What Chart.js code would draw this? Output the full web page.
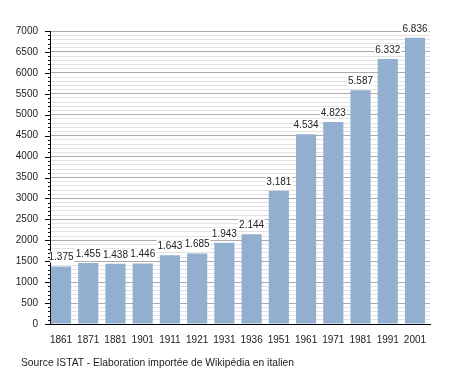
<!DOCTYPE html>
<html>
<head>
<meta charset="utf-8">
<script src="https://cdn.jsdelivr.net/npm/chart.js@4"></script>
<style>
  html, body { margin: 0; padding: 0; background: #fff; }
  #wrap { position: relative; width: 455px; height: 373px; }
  #source {
    position: absolute; left: 21px; top: 357px;
    font: 10.3px "Liberation Sans", Arial, sans-serif; color: #222;
    white-space: nowrap;
  }
</style>
</head>
<body>
<div id="wrap">
  <canvas id="popChart" width="455" height="373"></canvas>
  <div id="source">Source ISTAT - Elaboration importée de Wikipédia en italien</div>
</div>
<script>
// census years and resident population
const YEARS = ["1861", "1871", "1881", "1901", "1911", "1921", "1931", "1936", "1951", "1961", "1971", "1981", "1991", "2001"];
const POPULATION = [1375, 1455, 1438, 1446, 1643, 1685, 1943, 2144, 3181, 4534, 4823, 5587, 6332, 6836];

const FONT = '"Liberation Sans", Arial, sans-serif';
const BAR = "#93afcf";
const TEXT = "#222";

// italian style thousands: 1375 -> "1.375"
const fmt = (v) => String(v).replace(/\B(?=(\d{3})+(?!\d))/g, ".");

// short minor ticks, longer major ticks on the y axis
const yTicks = {
  id: "yTicks",
  afterDraw(chart) {
    const s = chart.scales.y;
    const ctx = chart.ctx;
    ctx.save();
    ctx.strokeStyle = "#000";
    ctx.lineWidth = 1;
    s.ticks.forEach((t) => {
      const y = Math.round(s.getPixelForValue(t.value)) + 0.5;
      const len = t.value % 500 === 0 ? 5 : 2;
      ctx.beginPath();
      ctx.moveTo(s.right - len, y);
      ctx.lineTo(s.right, y);
      ctx.stroke();
    });
    ctx.restore();
  },
};

// value labels on white boxes above each bar
const valueLabels = {
  id: "valueLabels",
  afterDatasetsDraw(chart) {
    const ctx = chart.ctx;
    const meta = chart.getDatasetMeta(0);
    ctx.save();
    ctx.font = "10px " + FONT;
    ctx.textAlign = "center";
    ctx.textBaseline = "alphabetic";
    meta.data.forEach((el, i) => {
      const txt = fmt(POPULATION[i]);
      const w = ctx.measureText(txt).width;
      const base = el.y - 6;
      ctx.fillStyle = "#fff";
      ctx.fillRect(el.x - w / 2 - 1, base - 9, w + 2, 11);
      ctx.fillStyle = TEXT;
      ctx.fillText(txt, el.x, base);
    });
    ctx.restore();
  },
};

new Chart(document.getElementById("popChart"), {
  type: "bar",
  data: {
    datasets: [{
      data: POPULATION.map((v, i) => ({ x: i, y: v })),
      backgroundColor: BAR,
      borderWidth: 0,
      barPercentage: 0.74,
      categoryPercentage: 1,
    }],
  },
  options: {
    responsive: false,
    animation: false,
    layout: { padding: { top: 31, right: 25, bottom: 29, left: 0 } },
    plugins: {
      legend: { display: false },
      tooltip: { enabled: false },
    },
    scales: {
      x: {
        type: "linear",
        offset: false,
        min: -0.404,
        max: 13.551,
        afterBuildTicks: (s) => { s.ticks = YEARS.map((_, i) => ({ value: i })); },
        afterFit: (s) => { s.height = 20; },
        ticks: {
          color: TEXT,
          font: { family: FONT, size: 10 },
          padding: 2,
          autoSkip: false,
          maxRotation: 0,
          callback: (v) => YEARS[v],
        },
        grid: { display: false },
        border: { display: true, color: "#000", width: 1 },
      },
      y: {
        min: 0,
        max: 7000,
        afterFit: (s) => { s.width = 50; },
        ticks: {
          stepSize: 100,
          autoSkip: false,
          color: TEXT,
          font: { family: FONT, size: 10 },
          padding: 12,
          callback: (v) => (v % 500 === 0 ? v : ""),
        },
        grid: {
          drawTicks: false,
          color: (c) => (c.tick && c.tick.value % 500 === 0 ? "#aaaaaa" : "#e2e2e2"),
        },
        border: { display: true, color: "#000", width: 1 },
      },
    },
  },
  plugins: [yTicks, valueLabels],
});
</script>
</body>
</html>
